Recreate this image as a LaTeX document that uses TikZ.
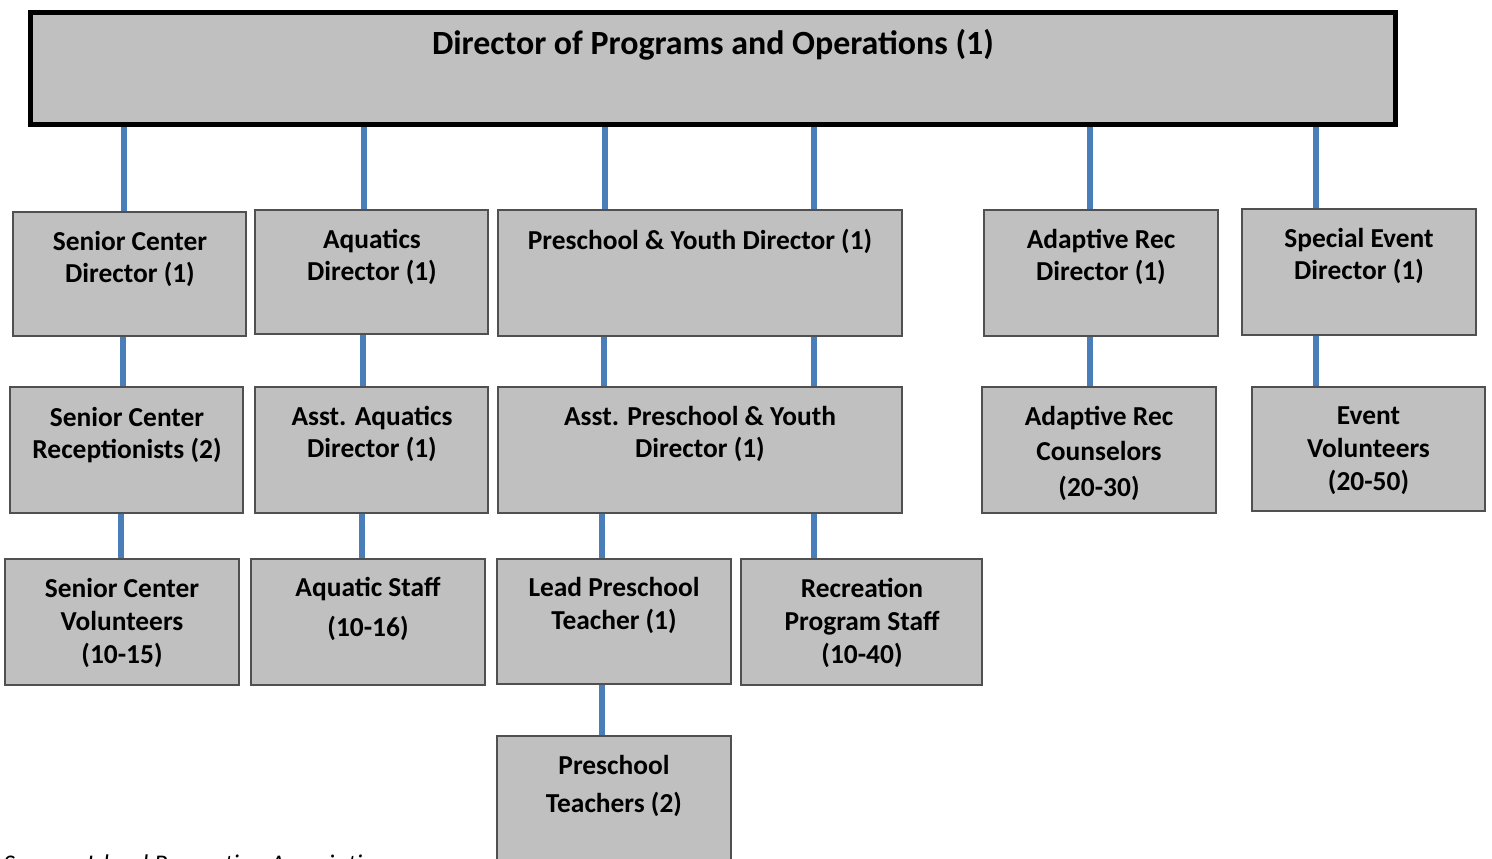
\documentclass[tikz,border=0pt]{standalone}
\usepackage{fontspec}
\setmainfont{Carlito}
\usepackage{xcolor}
\definecolor{boxgray}{RGB}{192, 192, 192}
\definecolor{boxline}{RGB}{80, 80, 80}
\definecolor{linkblue}{RGB}{74, 126, 187}
\newdimen\px
\px=0.02cm
\tikzset{
  box/.style={draw=boxline, fill=boxgray, line width=1.1pt, inner sep=0pt},
  txt/.style={align=center, inner sep=0pt, font=\fontsize{15.6}{18.7}\selectfont\bfseries},
  link/.style={draw=linkblue, line width=3.4pt}
}

\begin{document}
\begin{tikzpicture}[x=0.02cm, y=-0.02cm]
        \useasboundingbox (0,0) rectangle (1492,859);
        % 最上位の箱
        \node[box, draw=black, line width=2.8pt, minimum width=1365\px, minimum height=112\px] (top) at (713,68.5) {};
        \node[txt, font=\fontsize{19.3}{22}\selectfont\bfseries] (topt) at (713,45) {Director of Programs and Operations (1)};
        % 1段目
        \node[box, minimum width=233\px, minimum height=124\px] (sdir) at (129.5,274) {};
        \node[box, minimum width=233\px, minimum height=124\px] (adir) at (371.5,272) {};
        \node[box, minimum width=404\px, minimum height=126\px] (pdir) at (700,273) {};
        \node[box, minimum width=234\px, minimum height=126\px] (rdir) at (1101,273) {};
        \node[box, minimum width=234\px, minimum height=126\px] (edir) at (1359,272) {};
        \node[txt] (sdirt) at (130,259) {Senior Center\\Director (1)};
        \node[txt] (adirt) at (372,257) {Aquatics\\Director (1)};
        \node[txt] (pdirt) at (700,241) {Preschool \& Youth Director (1)};
        \node[txt] (rdirt) at (1101,257) {Adaptive Rec\\Director (1)};
        \node[txt] (edirt) at (1359,256) {Special Event\\Director (1)};
        % 2段目
        \node[box, minimum width=233\px, minimum height=126\px] (srec) at (126.5,450) {};
        \node[box, minimum width=233\px, minimum height=126\px] (aasst) at (371.5,450) {};
        \node[box, minimum width=404\px, minimum height=126\px] (passt) at (700,450) {};
        \node[box, minimum width=234\px, minimum height=126\px] (rcoun) at (1099,450) {};
        \node[box, minimum width=233\px, minimum height=124\px] (evol) at (1368.5,449) {};
        \node[txt] (srect) at (127,435) {Senior Center\\Receptionists (2)};
        \node[txt] (aasstt) at (372,434) {Asst. Aquatics\\Director (1)};
        \node[txt] (passtt) at (700,434) {Asst. Preschool \& Youth\\Director (1)};
        \node[txt] (rcount) at (1099,453) {Adaptive Rec\\[1.5pt]Counselors\\[1.5pt](20-30)};
        \node[txt] (evolt) at (1368.5,451) {Event\\Volunteers\\(20-50)};
        % 3段目
        \node[box, minimum width=234\px, minimum height=126\px] (svol) at (122,622) {};
        \node[box, minimum width=234\px, minimum height=126\px] (astaff) at (368,622) {};
        \node[box, minimum width=234\px, minimum height=125\px] (lead) at (614,621.5) {};
        \node[box, minimum width=241\px, minimum height=126\px] (rstaff) at (861.5,622) {};
        \node[txt] (svolt) at (122,623) {Senior Center\\Volunteers\\(10-15)};
        \node[txt] (astafft) at (368,609) {Aquatic Staff\\[4pt](10-16)};
        \node[txt] (leadt) at (614,605.5) {Lead Preschool\\Teacher (1)};
        \node[txt] (rstafft) at (862,623) {Recreation\\Program Staff\\(10-40)};
        % 4段目
        \node[box, minimum width=234\px, minimum height=126\px] (pteach) at (614,799) {};
        \node[txt] (pteacht) at (614,786) {Preschool\\[3pt]Teachers (2)};
        % 出典
        \node[anchor=base west, inner sep=0pt, font=\fontsize{14.5}{17}\selectfont\itshape] (src) at (3,872) {Source: Island Recreation Association};
        % 線
        \draw[link] (124,0 |- top.south) -- (124,0 |- sdir.north);
        \draw[link] (364,0 |- top.south) -- (364,0 |- adir.north);
        \draw[link] (605,0 |- top.south) -- (605,0 |- pdir.north);
        \draw[link] (814,0 |- top.south) -- (814,0 |- pdir.north);
        \draw[link] (1090,0 |- top.south) -- (1090,0 |- rdir.north);
        \draw[link] (1316,0 |- top.south) -- (1316,0 |- edir.north);
        \draw[link] (123,0 |- sdir.south) -- (123,0 |- srec.north);
        \draw[link] (363,0 |- adir.south) -- (363,0 |- aasst.north);
        \draw[link] (604,0 |- pdir.south) -- (604,0 |- passt.north);
        \draw[link] (814,0 |- pdir.south) -- (814,0 |- passt.north);
        \draw[link] (1090,0 |- rdir.south) -- (1090,0 |- rcoun.north);
        \draw[link] (1316,0 |- edir.south) -- (1316,0 |- evol.north);
        \draw[link] (121,0 |- srec.south) -- (121,0 |- svol.north);
        \draw[link] (362,0 |- aasst.south) -- (362,0 |- astaff.north);
        \draw[link] (602,0 |- passt.south) -- (602,0 |- lead.north);
        \draw[link] (814,0 |- passt.south) -- (814,0 |- rstaff.north);
        \draw[link] (602,0 |- lead.south) -- (602,0 |- pteach.north);
    \end{tikzpicture}
\end{document}
